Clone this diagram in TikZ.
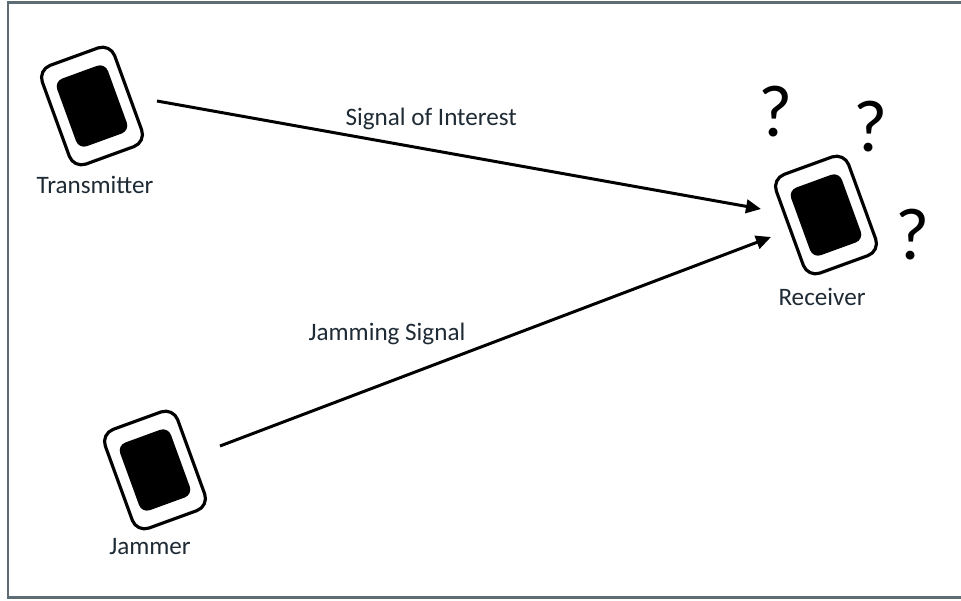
\documentclass[tikz,border=0pt]{standalone}
\usepackage{fontspec}
\setmainfont{Carlito}
\usepackage{tikz}
\usetikzlibrary{calc,                 % Calculs de coordonnées
           positioning,
           arrows.meta}
\definecolor{txt}{RGB}{30,42,52}
\definecolor{cadre}{RGB}{95,108,114}

\begin{document}
\begin{tikzpicture}[x=0.02cm,y=0.02cm,
  device/.style={draw,line width=1.8pt,rounded corners=0.26cm,minimum width=1.54cm,minimum height=2.1cm,rotate=20},
  screen/.style={fill=black,rounded corners=0.17cm,minimum width=1.08cm,minimum height=1.44cm,rotate=20},
  caption/.style={text=txt,font=\fontsize{14.3}{17}\selectfont},
  doubt/.style={font=\fontsize{42}{48}\selectfont},
  signal/.style={line width=1.7pt,-{Triangle[length=0.3cm,width=0.27cm]}}]
\useasboundingbox (0,0) rectangle (961,600);
\draw[cadre,line width=1.5pt] (961,597.5) -- (8,597.5) -- (8,2.5) -- (961,2.5);
\node[device](tx) at (92,494) {};
\node[screen](txscreen) at (tx) {};
\node[caption](txlabel) at (95,415) {Transmitter};
\node[device](rx) at (826,385) {};
\node[screen](rxscreen) at (rx) {};
\node[caption](rxlabel) at (822,303) {Receiver};
\node[device](jam) at (155,130) {};
\node[screen](jamscreen) at (jam) {};
\node[caption](jamlabel) at (150,53) {Jammer};
\node[doubt](q1) at (776,488) {?};
\node[doubt](q2) at (871,473) {?};
\node[doubt](q3) at (913,365) {?};
\draw[signal]([shift={(65,5)}]tx.center) -- ([shift={(-65,6)}]rx.center)
     node[caption,above=0.25cm,pos=0.454] {Signal of Interest};
\draw[signal]([shift={(65,24)}]jam.center) -- ([shift={(-55,-22)}]rx.center)
     node[caption,above=0.61cm,pos=0.303] {Jamming Signal};
\end{tikzpicture}
\end{document}
